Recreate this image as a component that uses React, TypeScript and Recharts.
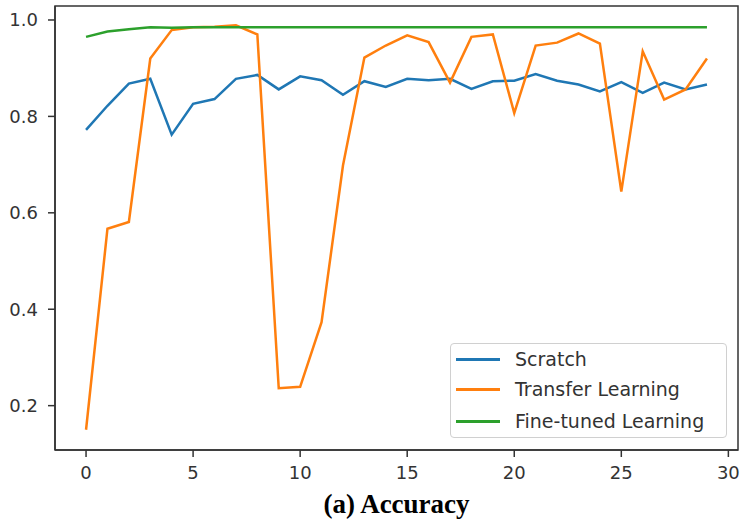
import React from "react";
import { LineChart, Line, XAxis, YAxis, ReferenceArea } from "recharts";

const epochs = [0, 1, 2, 3, 4, 5, 6, 7, 8, 9, 10, 11, 12, 13, 14, 15, 16, 17, 18, 19, 20, 21, 22, 23, 24, 25, 26, 27, 28, 29];
const scratch = [0.772, 0.822, 0.868, 0.878, 0.762, 0.826, 0.836, 0.878, 0.886, 0.856, 0.883, 0.875, 0.845, 0.873, 0.861, 0.878, 0.875, 0.878, 0.857, 0.873, 0.874, 0.888, 0.874, 0.866, 0.852, 0.871, 0.849, 0.870, 0.856, 0.866];
const transfer = [0.150, 0.567, 0.581, 0.920, 0.979, 0.985, 0.986, 0.989, 0.970, 0.236, 0.239, 0.373, 0.698, 0.922, 0.947, 0.968, 0.954, 0.870, 0.965, 0.970, 0.807, 0.947, 0.953, 0.972, 0.951, 0.644, 0.935, 0.835, 0.856, 0.920];
const fineTuned = [0.965, 0.976, 0.981, 0.985, 0.984, 0.985, 0.985, 0.985, 0.985, 0.985, 0.985, 0.985, 0.985, 0.985, 0.985, 0.985, 0.985, 0.985, 0.985, 0.985, 0.985, 0.985, 0.985, 0.985, 0.985, 0.985, 0.985, 0.985, 0.985, 0.985];

const xTicks = [0, 5, 10, 15, 20, 25, 30];
const yTicks = [0.2, 0.4, 0.6, 0.8, 1.0];
const xDomain: [number, number] = [-1.45, 30.45];
const yDomain: [number, number] = [0.108, 1.029];

const seriesNames = ["Scratch", "Transfer Learning", "Fine-tuned Learning"];
const seriesColors = ["#1f77b4", "#ff7f0e", "#2ca02c"];

const data = epochs.map((e, i) => ({
  epoch: e,
  scratch: scratch[i],
  transfer: transfer[i],
  fine: fineTuned[i],
}));

const FONT = "'DejaVu Sans', sans-serif";
const TEXT = "#333333";

function ChartLegend() {
  return (
    <div
      style={{
        position: "absolute",
        left: 450,
        top: 343,
        width: 275,
        height: 93,
        border: "1px solid #d0d0d0",
        borderRadius: 4,
        background: "rgba(255,255,255,0.85)",
        fontFamily: FONT,
        fontSize: 19,
        color: TEXT,
      }}
    >
      {seriesNames.map((n, i) => (
        <div key={n} style={{ position: "absolute", left: 0, top: [15, 45, 77][i] - 12, height: 24 }}>
          <div style={{ position: "absolute", left: 5, top: 11, width: 44, height: 3, background: seriesColors[i] }} />
          <span style={{ position: "absolute", left: 64, top: 0, whiteSpace: "nowrap", lineHeight: "24px" }}>{n}</span>
        </div>
      ))}
    </div>
  );
}

export default function App() {
  return (
    <div style={{ position: "absolute", left: 0, top: 0, width: 740, height: 525, background: "#fff" }}>
      <LineChart width={740} height={525} data={data} margin={{ top: 6, right: 2, left: 0, bottom: 0 }}>
        <XAxis
          dataKey="epoch"
          type="number"
          domain={xDomain}
          ticks={xTicks}
          allowDataOverflow
          height={75}
          tickSize={7}
          tickMargin={9}
          stroke="#333"
          strokeWidth={1.5}
          tick={{ fill: TEXT, fontSize: 18, fontFamily: FONT }}
          tickLine={{ stroke: "#333", strokeWidth: 1.5 }}
        />
        <YAxis
          type="number"
          domain={yDomain}
          ticks={yTicks}
          allowDataOverflow
          width={55}
          tickSize={7}
          tickMargin={10}
          stroke="#333"
          strokeWidth={1.5}
          tickFormatter={(v: number) => v.toFixed(1)}
          tick={{ fill: TEXT, fontSize: 18, fontFamily: FONT }}
          tickLine={{ stroke: "#333", strokeWidth: 1.5 }}
        />
        <ReferenceArea
          x1={xDomain[0]}
          x2={xDomain[1]}
          y1={yDomain[0]}
          y2={yDomain[1]}
          fill="none"
          fillOpacity={0}
          stroke="#333"
          strokeWidth={1.5}
        />
        <Line dataKey="scratch" name={seriesNames[0]} stroke={seriesColors[0]} strokeWidth={2.5} dot={false} isAnimationActive={false} />
        <Line dataKey="transfer" name={seriesNames[1]} stroke={seriesColors[1]} strokeWidth={2.5} dot={false} isAnimationActive={false} />
        <Line dataKey="fine" name={seriesNames[2]} stroke={seriesColors[2]} strokeWidth={2.5} dot={false} isAnimationActive={false} />
      </LineChart>
      <ChartLegend />
      <div
        style={{
          position: "absolute",
          left: 55,
          width: 683,
          top: 489,
          textAlign: "center",
          fontFamily: "'Liberation Serif', 'Times New Roman', serif",
          fontWeight: "bold",
          fontSize: 27,
          color: "#000",
        }}
      >
        (a) Accuracy
      </div>
    </div>
  );
}
